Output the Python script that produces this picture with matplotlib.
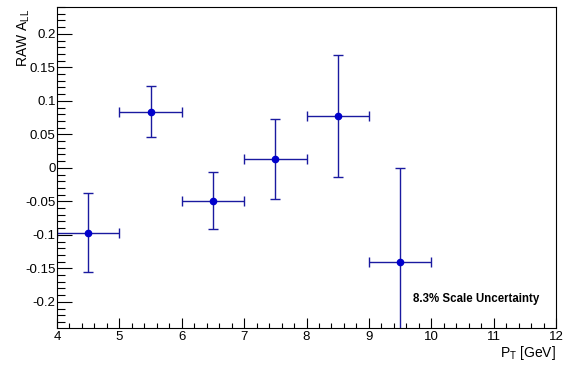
import matplotlib
matplotlib.use("Agg")
import matplotlib.pyplot as plt
from matplotlib.ticker import MultipleLocator

pt_centers = [4.5, 5.5, 6.5, 7.5, 8.5, 9.5]
pt_halfwidth = [0.5, 0.5, 0.5, 0.5, 0.5, 0.5]
raw_all = [-0.097, 0.0835, -0.049, 0.013, 0.078, -0.140]
raw_all_err = [0.059, 0.038, 0.043, 0.060, 0.091, 0.140]

plt.rcParams['font.family'] = ['Liberation Sans', 'DejaVu Sans']

fig = plt.figure(figsize=(5.67, 3.66), dpi=100)
ax = fig.add_axes([57/567, 1-328/366, (556-57)/567, (328-7)/366])

ax.errorbar(pt_centers, raw_all, yerr=raw_all_err, xerr=pt_halfwidth,
            fmt='o', color='#1a1aa0', ecolor='#1a1aa0', mfc='#0000cc', mec='#0000cc',
            ms=4.5, elinewidth=1.0, capsize=3.6, capthick=1.0)

ax.set_xlim(4, 12)
ax.set_ylim(-0.239, 0.24)

ax.xaxis.set_major_locator(MultipleLocator(1))
ax.xaxis.set_minor_locator(MultipleLocator(0.2))
ax.yaxis.set_major_locator(MultipleLocator(0.05))
ax.yaxis.set_minor_locator(MultipleLocator(0.01))

def fmt_y(v, pos):
    s = f"{v:.2f}".rstrip('0').rstrip('.')
    if s in ('-0', '0'):
        return '0'
    return s
ax.yaxis.set_major_formatter(plt.FuncFormatter(fmt_y))

ax.tick_params(axis='both', which='both', direction='in', top=False, right=False,
               labelsize=9.5, color='black', width=0.8)
ax.tick_params(axis='y', which='major', length=11)
ax.tick_params(axis='y', which='minor', length=5.5)
ax.tick_params(axis='x', which='major', length=7)
ax.tick_params(axis='x', which='minor', length=3.5)
ax.tick_params(axis='x', pad=2.5)
ax.tick_params(axis='y', pad=1)

for sp in ax.spines.values():
    sp.set_linewidth(0.8)

fig.text(556/567, 1-344/366, r'P$_{\mathregular{T}}$ [GeV]', fontsize=10,
         ha='right', va='top')
fig.text(24/567, 1-9/366, r'RAW A$_{\mathregular{LL}}$', fontsize=10,
         rotation=90, ha='center', va='top')

ax.text(0.713, 0.09, '8.3% Scale Uncertainty', transform=ax.transAxes,
        fontsize=8.3, fontweight='bold', ha='left', va='center')

fig.savefig('out.png', dpi=100)
